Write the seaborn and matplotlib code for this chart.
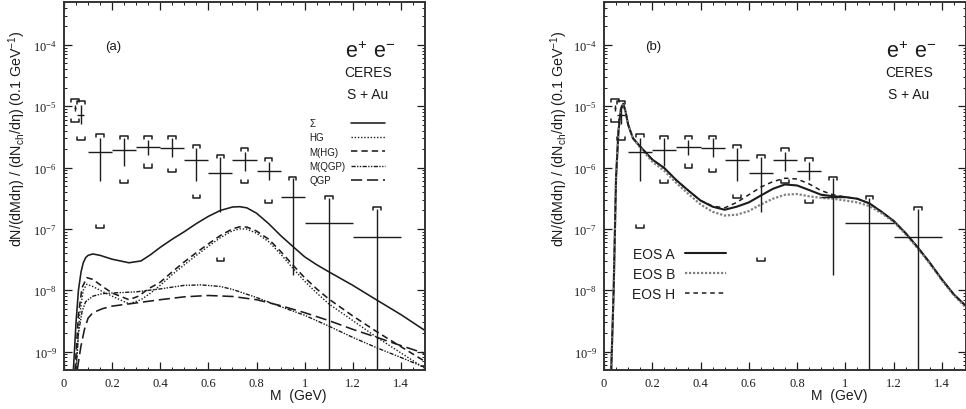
import numpy as np
import matplotlib
matplotlib.use("Agg")
import matplotlib.pyplot as plt
import seaborn as sns
from matplotlib.lines import Line2D
from matplotlib.ticker import FixedLocator, MultipleLocator, LogLocator, FuncFormatter, LogFormatterSciNotation


# ---------------------------------------------- data -----------------------------------------------

# CERES S+Au e+e- points (same in both panels)
pt_x = [0.045, 0.07, 0.15, 0.25, 0.35, 0.45, 0.55, 0.65, 0.75, 0.85, 0.95, 1.1, 1.3]
pt_y = [9.5e-6, 7.3e-6, 1.8e-6, 1.9e-6, 2.15e-6, 2.1e-6, 1.35e-6, 8.0e-7, 1.33e-6, 8.9e-7, 3.3e-7, 1.26e-7, 7.5e-8]
bin_lo = [0.04, 0.055, 0.1, 0.2, 0.3, 0.4, 0.5, 0.6, 0.7, 0.8, 0.9, 1.0, 1.2]
bin_hi = [0.05, 0.085, 0.2, 0.3, 0.4, 0.5, 0.6, 0.7, 0.8, 0.9, 1.0, 1.2, 1.4]
stat_lo = [8.5e-6, 5.2e-6, 6.0e-7, 1.04e-6, 1.6e-6, 1.5e-6, 6.0e-7, 1.9e-7, 8.8e-7, 6.3e-7, 1.8e-8, 1e-10, 1e-10]
stat_hi = [1.05e-5, 1.05e-5, 3.0e-6, 3.0e-6, 2.8e-6, 3.0e-6, 2.1e-6, 1.5e-6, 1.8e-6, 1.25e-6, 6.7e-7, 3.2e-7, 2.1e-7]
sys_lo = [5.6e-6, 2.8e-6, 1.05e-7, 5.5e-7, 1.0e-6, 8.4e-7, 3.2e-7, 3.0e-8, 5.5e-7, 2.6e-7, np.nan, np.nan, np.nan]
sys_hi = [1.3e-5, 1.2e-5, 3.5e-6, 3.3e-6, 3.3e-6, 3.3e-6, 2.35e-6, 1.6e-6, 2.1e-6, 1.45e-6, 6.9e-7, 3.45e-7, 2.24e-7]

# panel (a) curves
sig_x = [0.039, 0.05, 0.06, 0.071, 0.08, 0.09, 0.1, 0.12, 0.15, 0.2, 0.27, 0.32, 0.36, 0.4, 0.45, 0.5, 0.55, 0.6,
         0.65, 0.7, 0.73, 0.76, 0.8, 0.85, 0.9, 0.95, 1.0, 1.05, 1.1, 1.2, 1.3, 1.4, 1.5]
sig_y = [5e-10, 3e-9, 1.0e-8, 2.0e-8, 2.8e-8, 3.4e-8, 3.7e-8, 3.9e-8, 3.7e-8, 3.2e-8, 2.8e-8, 3.0e-8, 3.8e-8,
         5.0e-8, 6.8e-8, 9.0e-8, 1.22e-7, 1.6e-7, 2.0e-7, 2.27e-7, 2.3e-7, 2.2e-7, 1.8e-7, 1.22e-7, 7.8e-8, 5.2e-8,
         3.5e-8, 2.6e-8, 2.0e-8, 1.2e-8, 6.9e-9, 4.0e-9, 2.2e-9]

hg_x = [0.05, 0.065, 0.08, 0.095, 0.12, 0.16, 0.2, 0.27, 0.32, 0.36, 0.4, 0.45, 0.5, 0.55, 0.6, 0.65, 0.7, 0.73,
        0.76, 0.8, 0.85, 0.9, 0.95, 1.0, 1.05, 1.1, 1.2, 1.3, 1.4, 1.5]
hg_y = [5e-10, 4e-9, 1.0e-8, 1.25e-8, 1.15e-8, 9.5e-9, 8e-9, 6e-9, 7e-9, 9e-9, 1.2e-8, 1.8e-8, 2.6e-8, 3.7e-8,
        5.2e-8, 7.2e-8, 9.3e-8, 1.0e-7, 9.9e-8, 8.5e-8, 6.2e-8, 3.9e-8, 2.3e-8, 1.4e-8, 9.0e-9, 6.0e-9, 3.2e-9,
        1.7e-9, 9.5e-10, 5.3e-10]

mhg_x = [0.046, 0.06, 0.075, 0.095, 0.12, 0.16, 0.2, 0.27, 0.31, 0.35, 0.4, 0.45, 0.5, 0.55, 0.6, 0.65, 0.7, 0.73,
         0.76, 0.8, 0.85, 0.9, 0.95, 1.0, 1.05, 1.1, 1.2, 1.3, 1.4, 1.5]
mhg_y = [5e-10, 4e-9, 1.1e-8, 1.6e-8, 1.5e-8, 1.15e-8, 9e-9, 7e-9, 8e-9, 1.05e-8, 1.35e-8, 2.0e-8, 2.9e-8, 4.1e-8,
         5.7e-8, 7.8e-8, 1.0e-7, 1.08e-7, 1.07e-7, 9.2e-8, 6.8e-8, 4.3e-8, 2.6e-8, 1.6e-8, 1.05e-8, 7.2e-9, 3.8e-9,
         2.1e-9, 1.2e-9, 6.9e-10]

mqgp_x = [0.05, 0.06, 0.075, 0.09, 0.12, 0.16, 0.2, 0.3, 0.4, 0.5, 0.57, 0.65, 0.7, 0.8, 0.9, 1.0, 1.1, 1.2, 1.3,
          1.4, 1.5]
mqgp_y = [5e-10, 2e-9, 4.5e-9, 6.5e-9, 8e-9, 8.8e-9, 9e-9, 9.4e-9, 1.05e-8, 1.2e-8, 1.22e-8, 1.15e-8, 1.03e-8,
          7.6e-9, 5.4e-9, 3.9e-9, 2.6e-9, 1.7e-9, 1.15e-9, 8e-10, 5.5e-10]

qgp_x = [0.055, 0.07, 0.085, 0.1, 0.12, 0.16, 0.2, 0.3, 0.4, 0.5, 0.6, 0.7, 0.8, 0.9, 1.0, 1.1, 1.2, 1.3, 1.4, 1.5]
qgp_y = [5e-10, 1.2e-9, 2.3e-9, 3.5e-9, 4.3e-9, 5.0e-9, 5.5e-9, 6.2e-9, 7.0e-9, 7.8e-9, 8.2e-9, 7.9e-9, 7.0e-9,
         5.6e-9, 4.3e-9, 3.2e-9, 2.3e-9, 1.7e-9, 1.25e-9, 9.3e-10]

# panel (b) curves
eos_x = [0.03, 0.04, 0.05, 0.06, 0.07, 0.08, 0.09, 0.1, 0.12, 0.15, 0.2, 0.25, 0.3, 0.35, 0.4, 0.45, 0.5, 0.55,
         0.6, 0.65, 0.7, 0.75, 0.8, 0.85, 0.9, 0.95, 1.0, 1.05, 1.1, 1.15, 1.2, 1.25, 1.3, 1.35, 1.4, 1.45, 1.5]
eos_a = [5e-10, 1e-8, 7e-7, 4e-6, 9e-6, 1.1e-5, 8e-6, 5e-6, 3e-6, 2.2e-6, 1.35e-6, 9.8e-7, 6.2e-7, 4.2e-7, 2.9e-7,
         2.3e-7, 2.05e-7, 2.3e-7, 2.7e-7, 3.5e-7, 4.5e-7, 5.3e-7, 5.1e-7, 4.3e-7, 3.6e-7, 3.4e-7, 3.3e-7, 3.1e-7,
         2.6e-7, 1.9e-7, 1.35e-7, 8.5e-8, 5e-8, 2.8e-8, 1.5e-8, 8.5e-9, 5.5e-9]
eos_b = [5e-10, 1e-8, 7e-7, 4e-6, 9e-6, 1.1e-5, 8e-6, 5e-6, 3e-6, 2.1e-6, 1.25e-6, 8.8e-7, 5.6e-7, 3.7e-7, 2.5e-7,
         1.9e-7, 1.65e-7, 1.7e-7, 1.95e-7, 2.5e-7, 3.1e-7, 3.6e-7, 3.7e-7, 3.4e-7, 3.2e-7, 3.1e-7, 2.9e-7, 2.7e-7,
         2.35e-7, 1.8e-7, 1.3e-7, 8.2e-8, 4.8e-8, 2.7e-8, 1.45e-8, 8.2e-9, 5.2e-9]
eos_h = [5e-10, 1e-8, 7e-7, 4e-6, 9e-6, 1.1e-5, 8e-6, 5e-6, 3e-6, 2.2e-6, 1.35e-6, 9.8e-7, 6.2e-7, 4.2e-7, 2.9e-7,
         2.35e-7, 2.2e-7, 2.7e-7, 3.6e-7, 4.8e-7, 5.9e-7, 6.7e-7, 6.5e-7, 5.4e-7, 4.2e-7, 3.6e-7, 3.3e-7, 3.1e-7,
         2.6e-7, 1.9e-7, 1.35e-7, 8.5e-8, 5e-8, 2.8e-8, 1.5e-8, 8.5e-9, 5.5e-9]

x_ticks = [0, 0.2, 0.4, 0.6, 0.8, 1.0, 1.2, 1.4]
y_ticks = [1e-9, 1e-8, 1e-7, 1e-6, 1e-5, 1e-4]

ink = '#1c1c1c'


# ---------------------------------------------- helpers -----------------------------------------------

# Data points with stat error bars and systematic brackets
def draw_points(ax):
	x = np.array(pt_x)
	y = np.array(pt_y)
	ax.errorbar(x, y, xerr=[x - np.array(bin_lo), np.array(bin_hi) - x],
				yerr=[y - np.array(stat_lo), np.array(stat_hi) - y],
				fmt='none', ecolor=ink, elinewidth=1.0, capsize=0, zorder=3)
	w = 0.016
	tip = 10 ** 0.05
	for xi, lo, hi in zip(pt_x, sys_lo, sys_hi):
		if not np.isnan(hi):
			ax.plot([xi - w, xi - w, xi + w, xi + w], [hi / tip, hi, hi, hi / tip], color=ink, lw=1.1, zorder=3)
		if not np.isnan(lo):
			ax.plot([xi - w, xi - w, xi + w, xi + w], [lo * tip, lo, lo, lo * tip], color=ink, lw=1.1, zorder=3)


# Shared frame look
def style_axes(ax):
	ax.set_yscale('log')
	ax.set_xlim(0, 1.5)
	ax.set_ylim(5e-10, 5e-4)
	ax.xaxis.set_major_locator(FixedLocator(x_ticks))
	ax.xaxis.set_minor_locator(MultipleLocator(0.05))
	ax.xaxis.set_major_formatter(FuncFormatter(lambda v, p: '%g' % v))
	ax.yaxis.set_major_locator(FixedLocator(y_ticks))
	ax.yaxis.set_minor_locator(LogLocator(base=10, subs=np.arange(2, 10)))
	ax.yaxis.set_major_formatter(LogFormatterSciNotation())
	ax.tick_params(which='both', direction='in', top=True, right=True, colors=ink)
	ax.tick_params(which='major', length=5.5, width=0.9, labelsize=9, pad=5)
	ax.tick_params(which='minor', length=2.5, width=0.7)
	for lab in ax.get_xticklabels() + ax.get_yticklabels():
		lab.set_family('Liberation Serif')
	for s in ax.spines.values():
		s.set_linewidth(1.4)
		s.set_color('#333333')
	ax.set_xlabel('M  (GeV)', fontsize=10)
	ax.xaxis.set_label_coords(0.65, -0.05)
	ax.set_ylabel('dN/(dMdη) / (dN$_{\\mathdefault{ch}}$/dη) (0.1 GeV$^{\\mathdefault{-1}}$)', fontsize=10.3)
	ax.yaxis.set_label_coords(-0.10, 0.63)


def labels(ax, tag):
	ax.text(0.136, 0.88, tag, transform=ax.transAxes, ha='center', va='center', fontsize=9.5)
	ax.text(0.848, 0.865, '$\\mathdefault{e^{+}\\ e^{-}}$', transform=ax.transAxes, ha='center', va='center',
			fontsize=15.5)
	ax.text(0.842, 0.81, 'CERES', transform=ax.transAxes, ha='center', va='center', fontsize=10)
	ax.text(0.842, 0.75, 'S + Au', transform=ax.transAxes, ha='center', va='center', fontsize=10)


# ---------------------------------------------- figure -----------------------------------------------

sns.set_style('ticks')
plt.rcParams['font.family'] = ['Liberation Sans', 'DejaVu Sans']
plt.rcParams['text.color'] = ink
plt.rcParams['axes.labelcolor'] = ink

fig = plt.figure(figsize=(9.66, 4.10), dpi=100)
ax1 = fig.add_axes([64 / 966, 39 / 410, 361 / 966, 368 / 410])
ax2 = fig.add_axes([604 / 966, 39 / 410, 362 / 966, 368 / 410])

# Panel (a)
styles_a = [
	('Σ', sig_x, sig_y, '-', 1.15),
	('HG', hg_x, hg_y, (0, (1, 1.3)), 1.0),
	('M(HG)', mhg_x, mhg_y, (0, (4, 2.5)), 1.15),
	('M(QGP)', mqgp_x, mqgp_y, (0, (3, 1, 1, 1, 1, 1)), 1.0),
	('QGP', qgp_x, qgp_y, (0, (7, 3)), 1.15),
]
handles_a = []
for name, xs, ys, ls, lw in styles_a:
	sns.lineplot(x=xs, y=ys, ax=ax1, color=ink, linestyle=ls, lw=lw, estimator=None, sort=False)
	handles_a.append(Line2D([], [], color=ink, linestyle=ls, lw=lw))
draw_points(ax1)
style_axes(ax1)
labels(ax1, '(a)')

blank = [Line2D([], [], linestyle='none') for _ in styles_a]
leg_txt = ax1.legend(blank, [s[0] for s in styles_a], loc='upper left', bbox_to_anchor=(0.68, 0.685),
					 frameon=False, fontsize=7, handlelength=0, handletextpad=0, borderpad=0,
					 borderaxespad=0, labelspacing=0.45)
ax1.add_artist(leg_txt)
ax1.legend(handles_a, [''] * len(handles_a), loc='upper left', bbox_to_anchor=(0.795, 0.685), frameon=False,
		   fontsize=7, handlelength=3.5, handletextpad=0, borderpad=0, borderaxespad=0, labelspacing=0.45)

# Panel (b)
styles_b = [
	('EOS A', eos_a, ink, '-', 1.5),
	('EOS B', eos_b, '#808080', (0, (1, 0.8)), 1.6),
	('EOS H', eos_h, ink, (0, (3, 2.5)), 1.1),
]
handles_b = []
for name, ys, col, ls, lw in styles_b:
	sns.lineplot(x=eos_x, y=ys, ax=ax2, color=col, linestyle=ls, lw=lw, estimator=None, sort=False)
	handles_b.append(Line2D([], [], color=col, linestyle=ls, lw=lw))
draw_points(ax2)
style_axes(ax2)
ax2.yaxis.set_label_coords(-0.094, 0.63)
labels(ax2, '(b)')
ax2.legend(handles_b, [s[0] for s in styles_b], loc='upper left', bbox_to_anchor=(0.077, 0.335), frameon=False,
		   fontsize=10, markerfirst=False, handlelength=3.0, handletextpad=0.7, borderpad=0, borderaxespad=0,
		   labelspacing=0.45)

fig.savefig('out.png', dpi=100, facecolor='white')
